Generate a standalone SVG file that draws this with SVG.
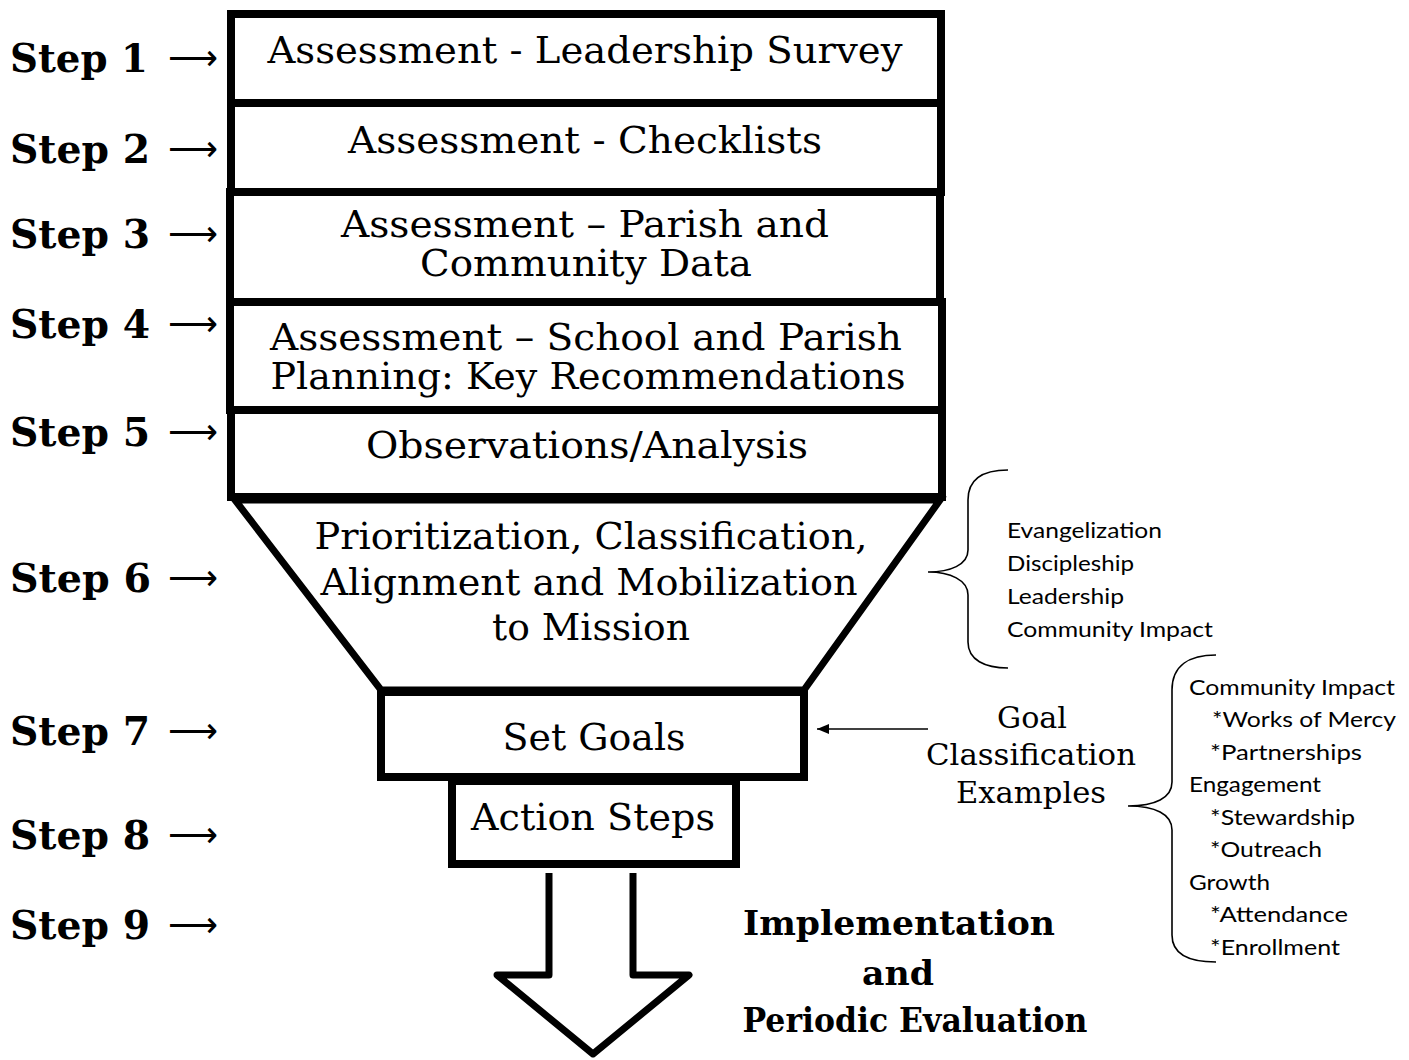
<svg xmlns="http://www.w3.org/2000/svg" width="1409" height="1060" viewBox="0 0 1409 1060">
<style>
.box{fill:#fff;stroke:#000;stroke-width:8}
.t{font-family:"DejaVu Serif","Liberation Serif",serif;font-size:37px;fill:#000;text-anchor:middle}
.g{font-family:"DejaVu Serif","Liberation Serif",serif;font-size:30px;fill:#000;text-anchor:middle}
.step{font-family:"DejaVu Serif","Liberation Serif",serif;font-size:40px;font-weight:bold;fill:#000}
.imp{font-family:"DejaVu Serif","Liberation Serif",serif;font-size:34px;font-weight:bold;fill:#000;text-anchor:middle}
.arr{font-family:"DejaVu Sans",sans-serif;font-size:36px;fill:#000}
.l{font-family:Lato,"Liberation Sans",sans-serif;font-size:22px;fill:#000}
.brace{fill:none;stroke:#000;stroke-width:1.6}
</style>
<defs>
<marker id="ah" viewBox="0 0 12 10" refX="12" refY="5" markerWidth="12" markerHeight="10" markerUnits="userSpaceOnUse" orient="auto">
<path d="M0,0 L12,5 L0,10 Z" fill="#000"/>
</marker>
</defs>

<g id="step-labels">
<text class="step" x="10" y="72" textLength="138" lengthAdjust="spacingAndGlyphs">Step 1</text>
<text class="arr" x="168" y="70" textLength="50" lengthAdjust="spacingAndGlyphs">⟶</text>
<text class="step" x="10" y="163" textLength="140" lengthAdjust="spacingAndGlyphs">Step 2</text>
<text class="arr" x="168" y="161" textLength="50" lengthAdjust="spacingAndGlyphs">⟶</text>
<text class="step" x="10" y="248" textLength="140" lengthAdjust="spacingAndGlyphs">Step 3</text>
<text class="arr" x="168" y="246" textLength="50" lengthAdjust="spacingAndGlyphs">⟶</text>
<text class="step" x="10" y="338" textLength="140" lengthAdjust="spacingAndGlyphs">Step 4</text>
<text class="arr" x="168" y="336" textLength="50" lengthAdjust="spacingAndGlyphs">⟶</text>
<text class="step" x="10" y="446" textLength="140" lengthAdjust="spacingAndGlyphs">Step 5</text>
<text class="arr" x="168" y="444" textLength="50" lengthAdjust="spacingAndGlyphs">⟶</text>
<text class="step" x="10" y="592" textLength="141" lengthAdjust="spacingAndGlyphs">Step 6</text>
<text class="arr" x="168" y="590" textLength="50" lengthAdjust="spacingAndGlyphs">⟶</text>
<text class="step" x="10" y="745" textLength="140" lengthAdjust="spacingAndGlyphs">Step 7</text>
<text class="arr" x="168" y="743" textLength="50" lengthAdjust="spacingAndGlyphs">⟶</text>
<text class="step" x="10" y="849" textLength="140" lengthAdjust="spacingAndGlyphs">Step 8</text>
<text class="arr" x="168" y="847" textLength="50" lengthAdjust="spacingAndGlyphs">⟶</text>
<text class="step" x="10" y="939" textLength="140" lengthAdjust="spacingAndGlyphs">Step 9</text>
<text class="arr" x="168" y="937" textLength="50" lengthAdjust="spacingAndGlyphs">⟶</text>
</g>

<g id="node-step1">
<rect class="box" x="231" y="14" width="710" height="89"/>
<text class="t" x="585" y="63" textLength="635" lengthAdjust="spacingAndGlyphs">Assessment - Leadership Survey</text>
</g>
<g id="node-step2">
<rect class="box" x="231" y="103" width="710" height="89"/>
<text class="t" x="585" y="153" textLength="474" lengthAdjust="spacingAndGlyphs">Assessment - Checklists</text>
</g>
<g id="node-step3">
<rect class="box" x="230" y="192" width="710" height="110"/>
<text class="t" x="585" y="237" textLength="488" lengthAdjust="spacingAndGlyphs">Assessment – Parish and</text>
<text class="t" x="586" y="276" textLength="332" lengthAdjust="spacingAndGlyphs">Community Data</text>
</g>
<g id="node-step4">
<rect class="box" x="230" y="302" width="712" height="108"/>
<text class="t" x="586" y="350" textLength="632" lengthAdjust="spacingAndGlyphs">Assessment – School and Parish</text>
<text class="t" x="588" y="389" textLength="635" lengthAdjust="spacingAndGlyphs">Planning: Key Recommendations</text>
</g>
<g id="node-step5">
<rect class="box" x="231" y="410" width="711" height="87"/>
<text class="t" x="587" y="458" textLength="442" lengthAdjust="spacingAndGlyphs">Observations/Analysis</text>
</g>
<g id="node-step6">
<polygon points="235,500 940,500 804,690 381,690" fill="#fff" stroke="#000" stroke-width="7" stroke-linejoin="miter"/>
<text class="t" x="591" y="549" textLength="553" lengthAdjust="spacingAndGlyphs">Prioritization, Classification,</text>
<text class="t" x="589" y="595" textLength="537" lengthAdjust="spacingAndGlyphs">Alignment and Mobilization</text>
<text class="t" x="591" y="640" textLength="198" lengthAdjust="spacingAndGlyphs">to Mission</text>
</g>
<g id="node-step7">
<rect class="box" x="381" y="692" width="423" height="85"/>
<text class="t" x="594" y="750" textLength="183" lengthAdjust="spacingAndGlyphs">Set Goals</text>
</g>
<g id="node-step8">
<rect class="box" x="452" y="781" width="284" height="83"/>
<text class="t" x="593" y="830" textLength="244" lengthAdjust="spacingAndGlyphs">Action Steps</text>
</g>
<g id="node-step9">
<path d="M549,873 V975 H497 L593,1054 L689,975 H633 V873" fill="#fff" stroke="#000" stroke-width="7" stroke-linejoin="round"/>
<text class="imp" x="899" y="935" textLength="312" lengthAdjust="spacingAndGlyphs">Implementation</text>
<text class="imp" x="898" y="985" textLength="72" lengthAdjust="spacingAndGlyphs">and</text>
<text class="imp" x="915" y="1032" textLength="345" lengthAdjust="spacingAndGlyphs">Periodic Evaluation</text>
</g>

<g id="node-categories">
<path class="brace" d="M1008,470 C985,470 968,478 968,500 L968,550 C968,565 950,572 928,572 C950,572 968,580 968,595 L968,642 C968,660 985,668 1008,668"/>
<text class="l" x="1007" y="538" textLength="155" lengthAdjust="spacingAndGlyphs">Evangelization</text>
<text class="l" x="1007" y="571" textLength="127" lengthAdjust="spacingAndGlyphs">Discipleship</text>
<text class="l" x="1007" y="604" textLength="117" lengthAdjust="spacingAndGlyphs">Leadership</text>
<text class="l" x="1007" y="637" textLength="206" lengthAdjust="spacingAndGlyphs">Community Impact</text>
</g>

<g id="node-goal-examples">
<text class="g" x="1032" y="728" textLength="70" lengthAdjust="spacingAndGlyphs">Goal</text>
<text class="g" x="1031" y="765" textLength="210" lengthAdjust="spacingAndGlyphs">Classification</text>
<text class="g" x="1031" y="803" textLength="150" lengthAdjust="spacingAndGlyphs">Examples</text>
<path class="brace" d="M1216,655 C1190,655 1172,665 1172,690 L1172,782 C1172,798 1155,806 1128,806 C1155,806 1172,814 1172,830 L1172,935 C1172,955 1190,962 1216,962"/>
<text class="l" x="1189" y="695" textLength="206" lengthAdjust="spacingAndGlyphs">Community Impact</text>
<text class="l" x="1212" y="727" textLength="184" lengthAdjust="spacingAndGlyphs">*Works of Mercy</text>
<text class="l" x="1210" y="760" textLength="152" lengthAdjust="spacingAndGlyphs">*Partnerships</text>
<text class="l" x="1189" y="792" textLength="132" lengthAdjust="spacingAndGlyphs">Engagement</text>
<text class="l" x="1210" y="825" textLength="145" lengthAdjust="spacingAndGlyphs">*Stewardship</text>
<text class="l" x="1210" y="857" textLength="112" lengthAdjust="spacingAndGlyphs">*Outreach</text>
<text class="l" x="1189" y="890" textLength="81" lengthAdjust="spacingAndGlyphs">Growth</text>
<text class="l" x="1210" y="922" textLength="138" lengthAdjust="spacingAndGlyphs">*Attendance</text>
<text class="l" x="1210" y="955" textLength="130" lengthAdjust="spacingAndGlyphs">*Enrollment</text>
</g>

<g id="connectors">
<line x1="928" y1="729" x2="817" y2="729" stroke="#000" stroke-width="1.6" marker-end="url(#ah)"/>
</g>
</svg>
